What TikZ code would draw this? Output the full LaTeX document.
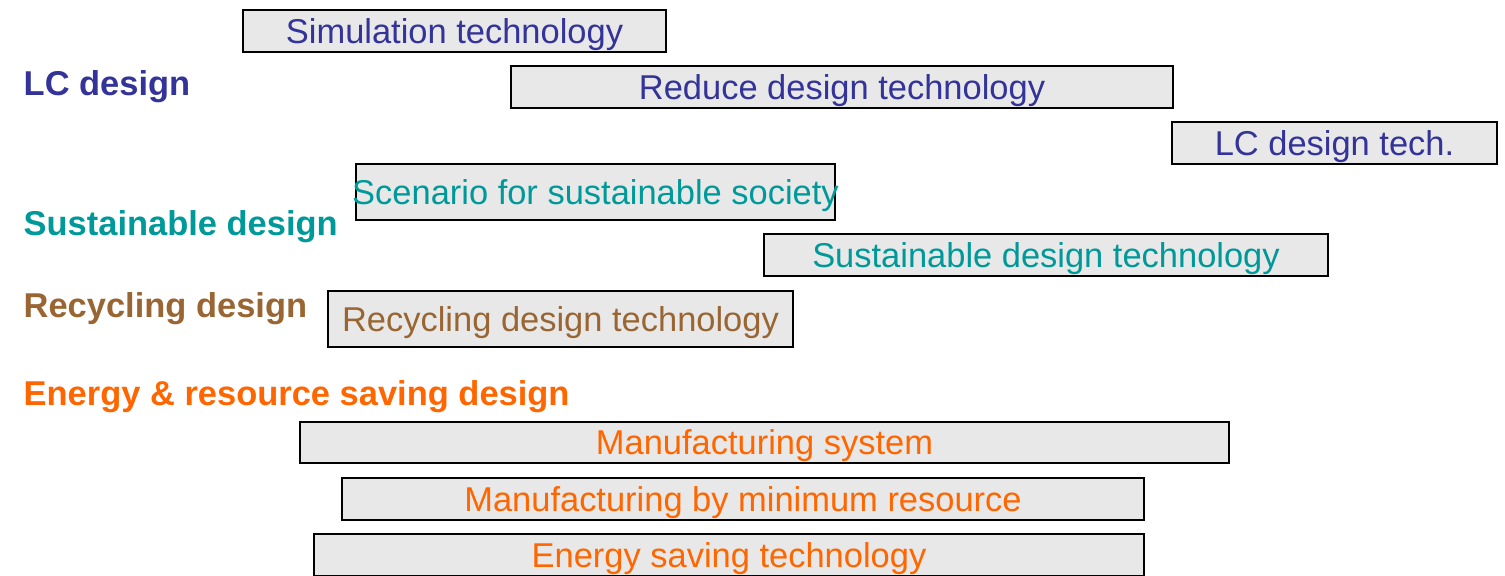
\documentclass[tikz,border=0pt]{standalone}
\usepackage{fontspec}
\setmainfont{Liberation Sans}

\definecolor{lcblue}{HTML}{333399}
\definecolor{susteal}{HTML}{009999}
\definecolor{recbrown}{HTML}{996633}
\definecolor{engorange}{HTML}{FF6600}
\definecolor{boxgray}{HTML}{E8E8E8}

\tikzset{
    techbox/.style={draw=black, line width=0.6pt, fill=boxgray, inner sep=0pt,
        minimum height=0.42cm, text height=0.248cm, text depth=0pt,
        font=\fontsize{9.8}{11}\selectfont},
    grouplabel/.style={anchor=base west, inner sep=0pt,
        font=\fontsize{9.8}{11}\selectfont\bfseries}
}

\begin{document}
\begin{tikzpicture}[x=0.01cm, y=-0.01cm]
        \useasboundingbox (0,0) rectangle (1505,575);

        % group labels
        \node[grouplabel, text=lcblue] (lcdesign) at (23,95) {LC design};
        \node[grouplabel, text=susteal] (sustdesign) at (23,235) {Sustainable design};
        \node[grouplabel, text=recbrown] (recdesign) at (23,317) {Recycling design};
        \node[grouplabel, text=engorange] (engdesign) at (23,405) {Energy \& resource saving design};

        % LC design
        \node[techbox, text=lcblue, minimum width=4.23cm] (simtech) at (454.5,31) {Simulation technology};
        \node[techbox, text=lcblue, minimum width=6.62cm] (reducetech) at (842,87) {Reduce design technology};
        \node[techbox, text=lcblue, minimum width=3.25cm] (lctech) at (1334.5,143) {LC design tech.};

        % sustainable design
        \node[techbox, text=susteal, minimum width=4.79cm, minimum height=0.56cm] (scenario) at (595.5,192)
            {\makebox[0pt]{Scenario for sustainable society}};
        \node[techbox, text=susteal, minimum width=5.64cm] (susttech) at (1046,255) {Sustainable design technology};

        % recycling design
        \node[techbox, text=recbrown, minimum width=4.65cm, minimum height=0.56cm] (rectech) at (560.5,319) {Recycling design technology};

        % energy & resource saving design
        \node[techbox, text=engorange, minimum width=9.29cm, minimum height=0.41cm] (mfgsystem) at (764.5,442.5) {Manufacturing system};
        \node[techbox, text=engorange, minimum width=8.02cm] (minresource) at (743,499) {Manufacturing by minimum resource};
        \node[techbox, text=engorange, minimum width=8.30cm] (energytech) at (729,555) {Energy saving technology};

    \end{tikzpicture}
\end{document}
